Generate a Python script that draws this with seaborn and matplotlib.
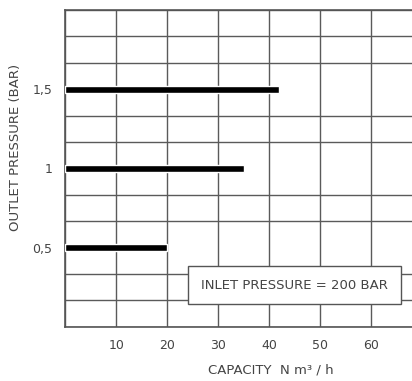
import numpy as np
import pandas as pd
import matplotlib
matplotlib.use("Agg")
import matplotlib.pyplot as plt
from matplotlib.patches import Rectangle
import seaborn as sns

# values
outlet_pressure = [0.5, 1.0, 1.5]
capacity = [20, 35, 42]
x_ticks = [10, 20, 30, 40, 50, 60]
y_ticks = [0.5, 1.0, 1.5]
y_tick_labels = ["0,5", "1", "1,5"]

sns.set_style("white")
plt.rcParams['font.family'] = ['DejaVu Sans']

df = pd.DataFrame({"pressure": outlet_pressure, "capacity": capacity})

fig = plt.figure(figsize=(4.12, 3.81), dpi=100)
ax = fig.add_axes([0.158, 0.142, 0.842, 0.832])

sns.barplot(data=df, x="capacity", y="pressure", orient="h", native_scale=True,
            color="black", width=0.09, ax=ax, zorder=3)

ax.set_xlim(0, 68)
ax.set_ylim(0, 2)

# grid: every 10 on x, every 1/6 on y
ax.set_xticks([0] + x_ticks)
ax.set_xticklabels([""] + [str(v) for v in x_ticks])
ax.set_yticks(y_ticks)
ax.set_yticklabels(y_tick_labels)
ax.set_yticks(np.arange(0, 2.01, 1 / 6), minor=True)
ax.grid(True, which="major", axis="x", color="#5a5a5a", linewidth=1.0)
ax.grid(True, which="minor", axis="y", color="#5a5a5a", linewidth=1.0)
ax.grid(False, which="major", axis="y")
ax.tick_params(which="both", length=0, colors="#444444", labelsize=9, pad=9)

for side in ["left", "bottom", "top"]:
    ax.spines[side].set_color("#555555")
    ax.spines[side].set_linewidth(1.2)
ax.spines["right"].set_visible(False)

ax.set_xlabel("CAPACITY  N m\u00b3 / h", color="#444444", fontsize=9.5)
ax.xaxis.set_label_coords(0.594, -0.115)
ax.set_ylabel("OUTLET PRESSURE (BAR)", color="#444444", fontsize=9.5)
ax.yaxis.set_label_coords(-0.125, 0.565)

box = Rectangle((0.354, 0.073), 0.614, 0.119, transform=ax.transAxes,
                facecolor="white", edgecolor="#555555", linewidth=1.0, zorder=4)
ax.add_patch(box)
ax.text(0.661, 0.132, "INLET PRESSURE = 200 BAR", transform=ax.transAxes,
        fontsize=9.5, color="#444444", va="center", ha="center", zorder=5)

fig.savefig("out.png", dpi=100)
